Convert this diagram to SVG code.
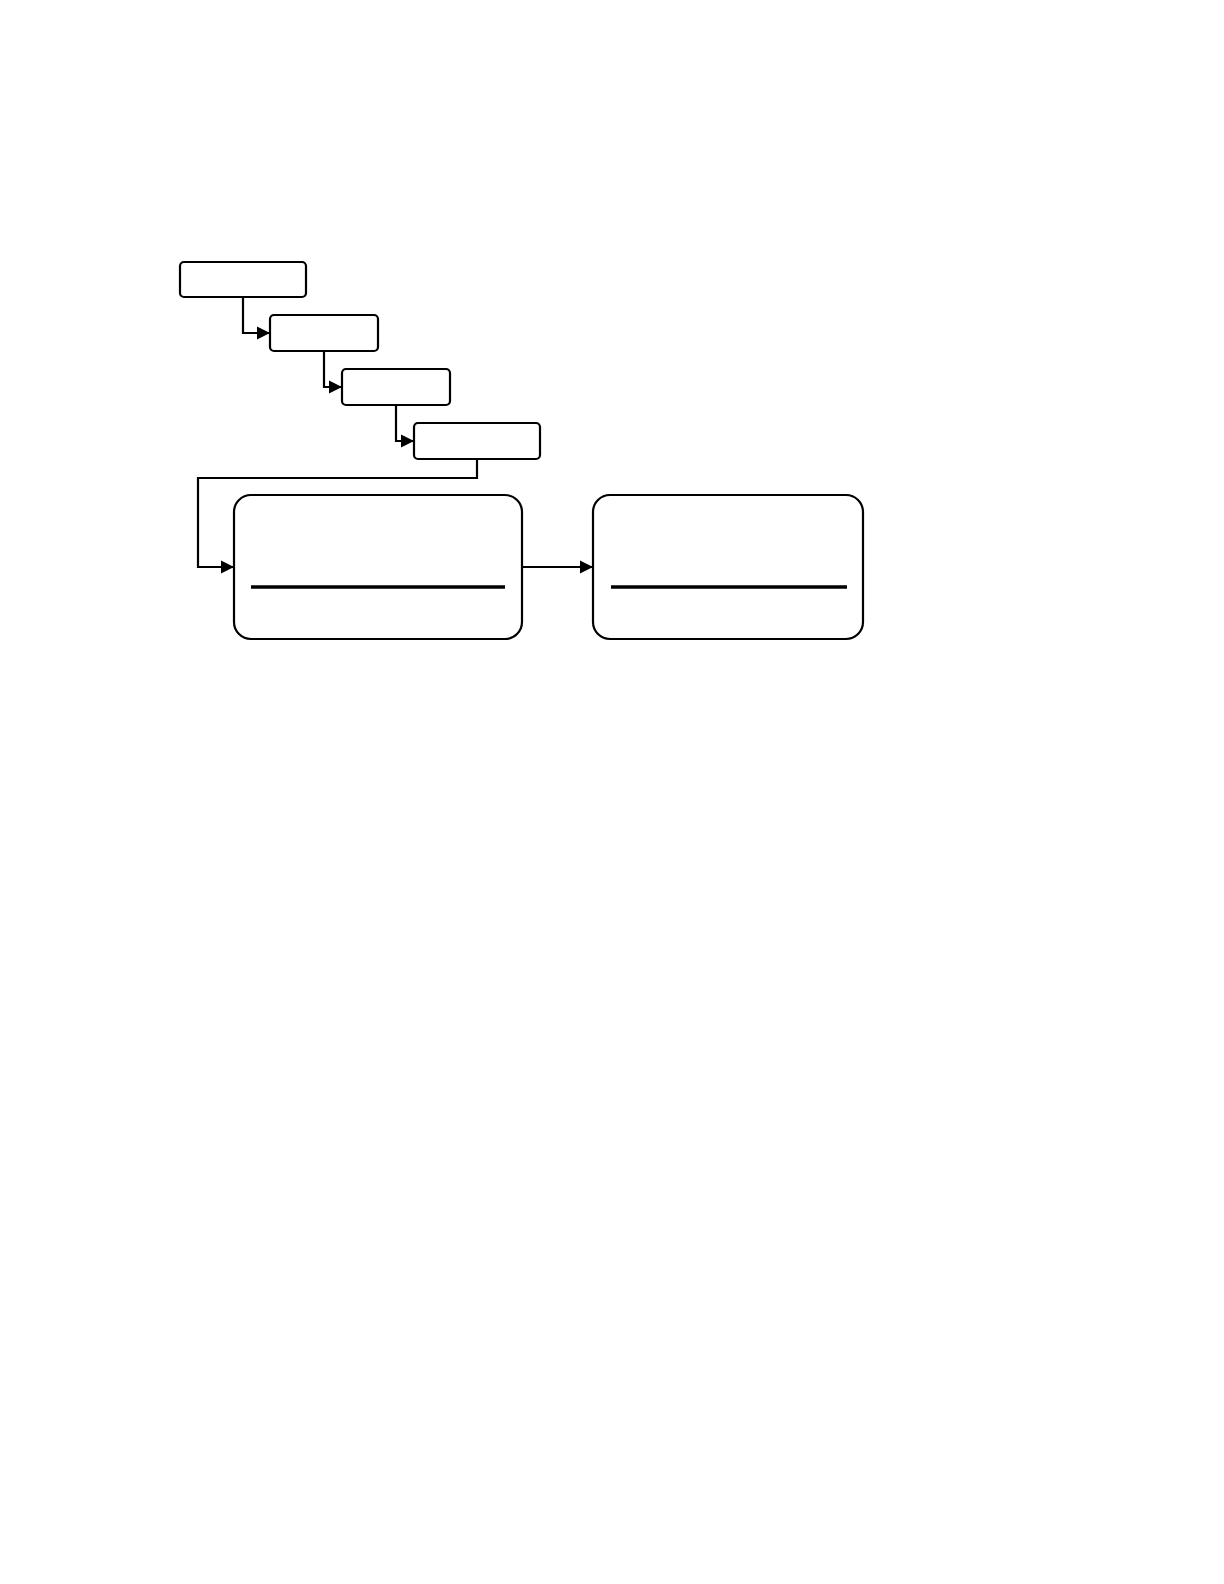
<svg xmlns="http://www.w3.org/2000/svg" width="1224" height="1584" viewBox="0 0 1224 1584">
<style>
.node{fill:#fff;stroke:#000;stroke-width:2.2}
.conn{fill:none;stroke:#000;stroke-width:2.2;marker-end:url(#arr)}
.div{stroke:#000;stroke-width:3.5}
</style>
<defs>
<marker id="arr" markerUnits="userSpaceOnUse" markerWidth="14" markerHeight="14" viewBox="0 0 14 14" refX="13" refY="7" orient="auto">
<path d="M0,0.5 L13,7 L0,13.5 Z" fill="#000"/>
</marker>
</defs>
<rect width="1224" height="1584" fill="#fff"/>
<g id="connectors">
<path class="conn" d="M243 297 V333 H270"/>
<path class="conn" d="M324 351 V387 H342"/>
<path class="conn" d="M396 405 V441 H414"/>
<path class="conn" d="M477 459 V478 H198 V567 H234"/>
<path class="conn" d="M522 567 H593"/>
</g>
<g id="n1"><rect class="node" x="180" y="262" width="126" height="35" rx="4"/></g>
<g id="n2"><rect class="node" x="270" y="315" width="108" height="36" rx="4"/></g>
<g id="n3"><rect class="node" x="342" y="369" width="108" height="36" rx="4"/></g>
<g id="n4"><rect class="node" x="414" y="423" width="126" height="36" rx="4"/></g>
<g id="nA"><rect class="node" x="234" y="495" width="288" height="144" rx="17"/><line class="div" x1="251" y1="587" x2="505" y2="587"/></g>
<g id="nB"><rect class="node" x="593" y="495" width="270" height="144" rx="17"/><line class="div" x1="611" y1="587" x2="847" y2="587"/></g>
</svg>
